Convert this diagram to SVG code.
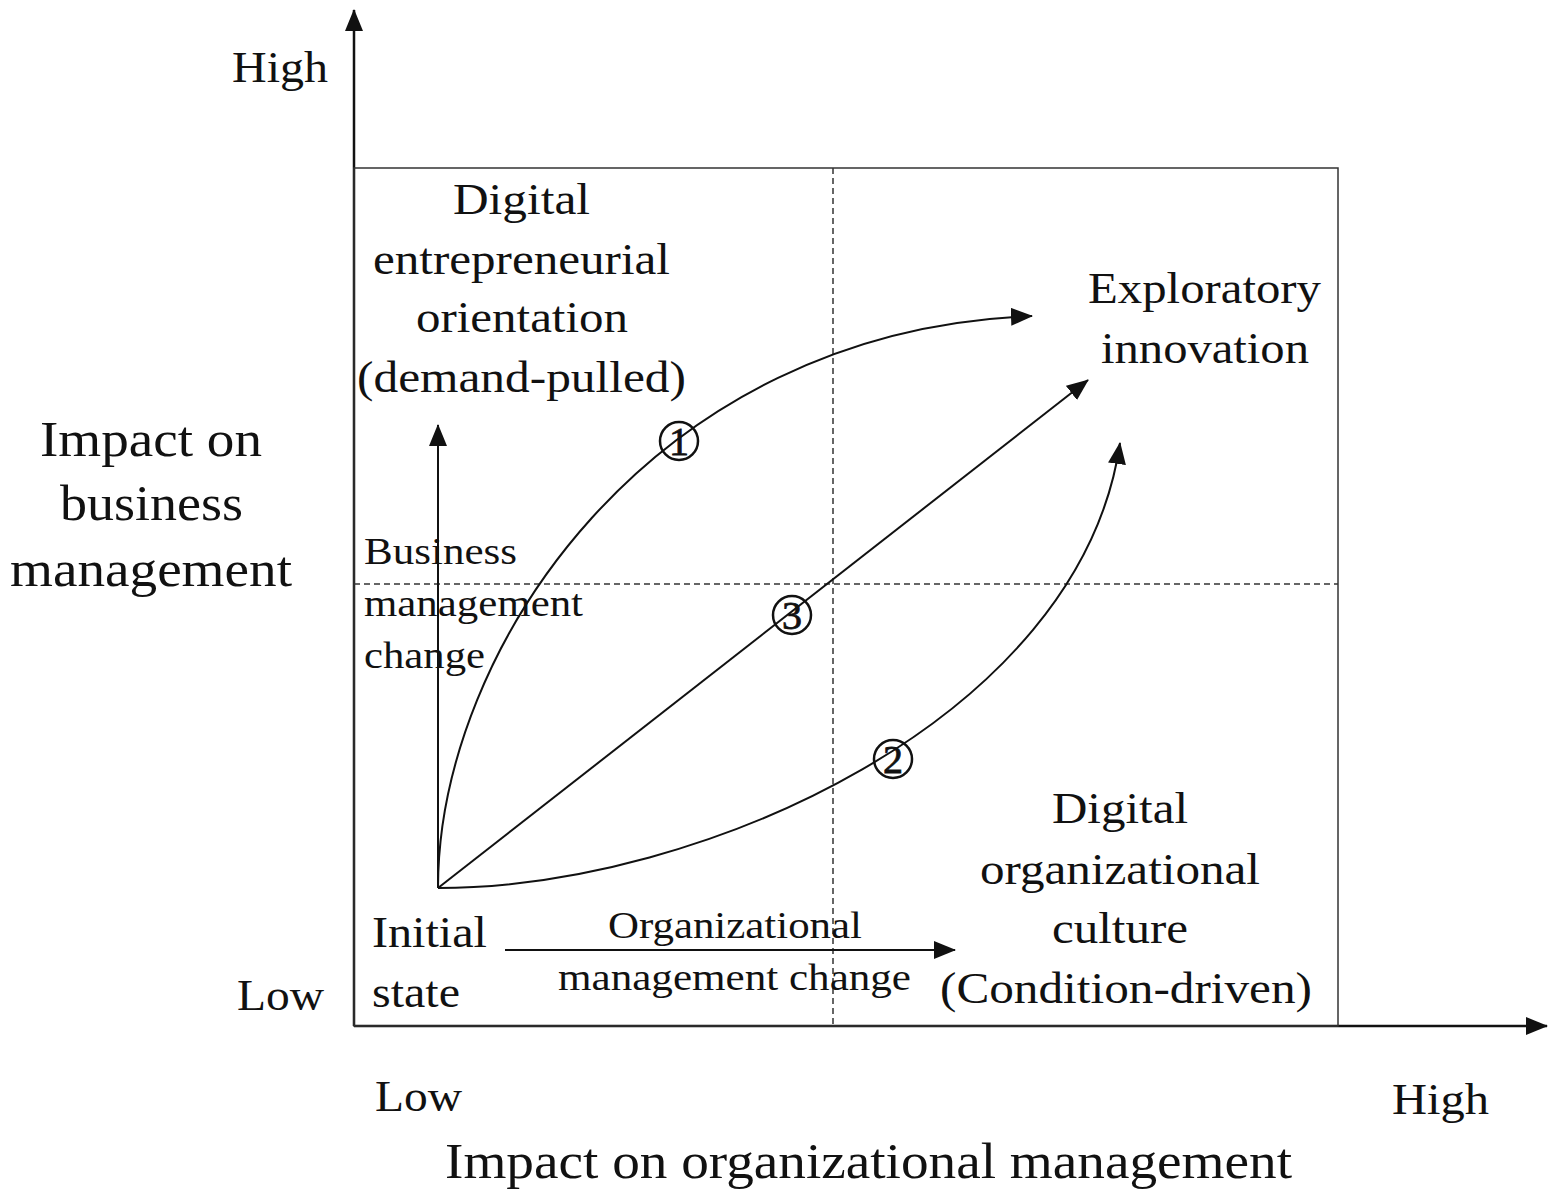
<svg xmlns="http://www.w3.org/2000/svg" width="1559" height="1202" viewBox="0 0 1559 1202">
<style>
text{font-family:"Liberation Serif","Times New Roman",serif;fill:#111;}
.l{font-size:44px;}
.b{font-size:51px;}
.s{font-size:37px;}
.n{font-size:40px;text-anchor:middle;stroke:#111;stroke-width:0.8;}
.ln{fill:none;stroke:#111;stroke-width:2;}
.ax{fill:none;stroke:#111;stroke-width:2.5;}
.ds{fill:none;stroke:#333;stroke-width:1.5;stroke-dasharray:6 4;}
.cir{fill:none;stroke:#111;stroke-width:2.5;}
</style>
<defs>
<marker id="ahb" markerWidth="22" markerHeight="18" refX="21" refY="9" orient="auto" markerUnits="userSpaceOnUse" viewBox="0 0 22 18">
<path d="M0,0 L22,9 L0,18 Z" fill="#111"/>
</marker>
</defs>
<rect width="1559" height="1202" fill="#fff"/>
<g id="axes">
<line class="ax" x1="354" y1="1026" x2="354" y2="10" marker-end="url(#ahb)"/>
<line class="ax" x1="354" y1="1026" x2="1547" y2="1026" marker-end="url(#ahb)"/>
</g>
<g id="frame">
<rect x="354" y="168" width="984" height="858" fill="none" stroke="#333" stroke-width="1.5"/>
<line class="ds" x1="833" y1="168" x2="833" y2="1026"/>
<line class="ds" x1="354" y1="584" x2="1338" y2="584"/>
</g>
<g id="connectors">
<line class="ln" x1="438" y1="888" x2="438" y2="425" marker-end="url(#ahb)"/>
<line class="ln" x1="505" y1="950" x2="955" y2="950" marker-end="url(#ahb)"/>
<line class="ln" x1="438" y1="888" x2="1088" y2="380" marker-end="url(#ahb)"/>
<path class="ln" d="M438,888 C438,650 650,330 1032,316" marker-end="url(#ahb)"/>
<path class="ln" d="M438,888 C700,888 1080,720 1120,443" marker-end="url(#ahb)"/>
</g>
<g id="marker1"><circle class="cir" cx="679" cy="441" r="19"/><text class="n" x="679" y="455">1</text></g>
<g id="marker3"><circle class="cir" cx="792" cy="615" r="19"/><text class="n" x="792" y="629">3</text></g>
<g id="marker2"><circle class="cir" cx="893" cy="759" r="19"/><text class="n" x="893" y="773">2</text></g>
<g id="axis-labels">
<text class="l" x="232" y="82" textLength="96" lengthAdjust="spacingAndGlyphs">High</text>
<text class="l" x="237" y="1010" textLength="87" lengthAdjust="spacingAndGlyphs">Low</text>
<text class="l" x="375" y="1111" textLength="87" lengthAdjust="spacingAndGlyphs">Low</text>
<text class="l" x="1392" y="1114" textLength="97" lengthAdjust="spacingAndGlyphs">High</text>
<text class="b" x="40" y="456" textLength="222" lengthAdjust="spacingAndGlyphs">Impact on</text>
<text class="b" x="60" y="520" textLength="183" lengthAdjust="spacingAndGlyphs">business</text>
<text class="b" x="10" y="586" textLength="282" lengthAdjust="spacingAndGlyphs">management</text>
<text class="b" x="445" y="1178" textLength="847" lengthAdjust="spacingAndGlyphs">Impact on organizational management</text>
</g>
<g id="node-deo">
<text class="l" x="453" y="214" textLength="137" lengthAdjust="spacingAndGlyphs">Digital</text>
<text class="l" x="373" y="274" textLength="297" lengthAdjust="spacingAndGlyphs">entrepreneurial</text>
<text class="l" x="416" y="332" textLength="212" lengthAdjust="spacingAndGlyphs">orientation</text>
<text class="l" x="357" y="392" textLength="329" lengthAdjust="spacingAndGlyphs">(demand-pulled)</text>
</g>
<g id="node-exploratory">
<text class="l" x="1088" y="303" textLength="233" lengthAdjust="spacingAndGlyphs">Exploratory</text>
<text class="l" x="1101" y="363" textLength="208" lengthAdjust="spacingAndGlyphs">innovation</text>
</g>
<g id="node-doc">
<text class="l" x="1052" y="823" textLength="136" lengthAdjust="spacingAndGlyphs">Digital</text>
<text class="l" x="980" y="884" textLength="280" lengthAdjust="spacingAndGlyphs">organizational</text>
<text class="l" x="1052" y="943" textLength="136" lengthAdjust="spacingAndGlyphs">culture</text>
<text class="l" x="940" y="1003" textLength="372" lengthAdjust="spacingAndGlyphs">(Condition-driven)</text>
</g>
<g id="node-initial">
<text class="l" x="372" y="947" textLength="115" lengthAdjust="spacingAndGlyphs">Initial</text>
<text class="l" x="372" y="1007" textLength="88" lengthAdjust="spacingAndGlyphs">state</text>
</g>
<g id="label-bmc">
<text class="s" x="364" y="564" textLength="153" lengthAdjust="spacingAndGlyphs">Business</text>
<text class="s" x="364" y="616" textLength="219" lengthAdjust="spacingAndGlyphs">management</text>
<text class="s" x="364" y="668" textLength="121" lengthAdjust="spacingAndGlyphs">change</text>
</g>
<g id="label-omc">
<text class="s" x="608" y="938" textLength="254" lengthAdjust="spacingAndGlyphs">Organizational</text>
<text class="s" x="558" y="990" textLength="353" lengthAdjust="spacingAndGlyphs">management change</text>
</g>
</svg>
